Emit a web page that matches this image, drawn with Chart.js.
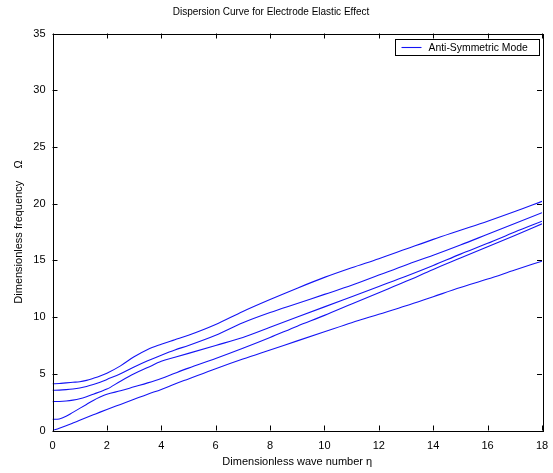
<!DOCTYPE html>
<html><head><meta charset="utf-8">
<script src="https://cdn.jsdelivr.net/npm/chart.js@4/dist/chart.umd.min.js"></script>
<style>html,body{margin:0;padding:0;background:#fff}</style>
</head><body>
<canvas id="c" width="553" height="473"></canvas>
<script>
const titleText = 'Dispersion Curve for Electrode Elastic Effect';
const xTitle = 'Dimensionless wave number \u03b7';
const yTitle = 'Dimensionless frequency    \u03a9';
const legendLabel = 'Anti-Symmetric Mode';
const xTicks = [0,2,4,6,8,10,12,14,16,18];
const yTicks = [0,5,10,15,20,25,30,35];

const waveNumber = [0,0.25,0.5,0.75,1,1.25,1.5,1.75,2,2.5,3,3.5,4,4.5,5,6,7,8,9,10,11,12,13,14,15,16,17,18];
const mode1 = [0,0.2,0.42,0.66,0.9,1.14,1.38,1.62,1.85,2.3,2.75,3.2,3.62,4.1,4.55,5.45,6.3,7.1,7.9,8.7,9.5,10.25,11.0,11.8,12.6,13.35,14.15,14.93];
const mode2 = [0.98,1.02,1.25,1.6,1.95,2.3,2.65,2.95,3.2,3.5,3.85,4.2,4.59,5.05,5.5,6.35,7.25,8.2,9.2,10.15,11.15,12.15,13.15,14.2,15.2,16.2,17.2,18.22];
const mode3 = [2.55,2.56,2.6,2.68,2.8,2.98,3.2,3.42,3.65,4.35,5.0,5.55,6.1,6.45,6.8,7.5,8.2,9.1,10.0,10.9,11.8,12.7,13.6,14.55,15.55,16.5,17.5,18.45];
const mode4 = [3.55,3.56,3.6,3.66,3.75,3.88,4.05,4.25,4.5,5.0,5.6,6.15,6.64,7.1,7.5,8.4,9.5,10.4,11.2,12.0,12.8,13.7,14.6,15.45,16.35,17.3,18.25,19.2];
const mode5 = [4.12,4.14,4.2,4.25,4.3,4.42,4.6,4.8,5.05,5.7,6.5,7.15,7.6,8.0,8.4,9.35,10.5,11.55,12.55,13.5,14.35,15.15,16.0,16.85,17.65,18.45,19.3,20.2];

const lineColor = 'rgb(20,20,245)';
const FONT = 'Arial, "Liberation Sans", Helvetica, sans-serif';

function mk(arr, label) {
  return {
    label: label,
    data: waveNumber.map((x, i) => ({x: x, y: arr[i]})),
    borderColor: lineColor,
    backgroundColor: lineColor,
    borderWidth: 1.1,
    pointRadius: 0,
    fill: false,
    tension: 0.35,
    cubicInterpolationMode: 'monotone'
  };
}

const frame = {
  id: 'frame',
  afterDraw(chart) {
    const ctx = chart.ctx;
    const a = chart.chartArea;
    const xs = chart.scales.x, ys = chart.scales.y;
    ctx.save();
    ctx.strokeStyle = '#000';
    ctx.lineWidth = 1;
    ctx.strokeRect(Math.round(a.left) + 0.5, Math.round(a.top) + 0.5, Math.round(a.right - a.left), Math.round(a.bottom - a.top));
    ctx.beginPath();
    const tl = 5;
    xTicks.forEach(v => {
      const px = Math.round(xs.getPixelForValue(v)) + 0.5;
      ctx.moveTo(px, a.bottom); ctx.lineTo(px, a.bottom - tl);
      ctx.moveTo(px, a.top); ctx.lineTo(px, a.top + tl);
    });
    yTicks.forEach(v => {
      const py = Math.round(ys.getPixelForValue(v)) + 0.5;
      ctx.moveTo(a.left, py); ctx.lineTo(a.left + tl, py);
      ctx.moveTo(a.right, py); ctx.lineTo(a.right - tl, py);
    });
    ctx.stroke();
    // legend
    const bw = 144, bh = 16;
    const bx = Math.round(a.right - 3 - bw) + 0.5;
    const by = Math.round(a.top + 5) + 0.5;
    ctx.fillStyle = '#fff';
    ctx.fillRect(bx, by, bw, bh);
    ctx.strokeStyle = '#000';
    ctx.strokeRect(bx, by, bw, bh);
    ctx.strokeStyle = lineColor;
    ctx.lineWidth = 1.1;
    ctx.beginPath();
    ctx.moveTo(bx + 6, by + bh / 2); ctx.lineTo(bx + 26, by + bh / 2);
    ctx.stroke();
    ctx.fillStyle = '#000';
    ctx.font = '10.4px ' + FONT;
    ctx.textBaseline = 'middle';
    ctx.textAlign = 'left';
    ctx.fillText(chart.data.datasets[0].label, bx + 33, by + bh / 2 + 0.5);
    ctx.restore();
  }
};

new Chart(document.getElementById('c'), {
  type: 'line',
  data: {
    datasets: [mk(mode1, legendLabel), mk(mode2, 'mode2'), mk(mode3, 'mode3'), mk(mode4, 'mode4'), mk(mode5, 'mode5')]
  },
  options: {
    responsive: false,
    animation: false,
    devicePixelRatio: 1,
    layout: {padding: {left: 0, right: 11, top: 0, bottom: 0}},
    plugins: {
      legend: {display: false},
      tooltip: {enabled: false},
      title: {
        display: true, text: titleText, color: '#000',
        font: {family: FONT, size: 10, weight: 'normal'},
        padding: {top: 6, bottom: 15.5}
      }
    },
    scales: {
      x: {
        type: 'linear', min: 0, max: 18,
        afterFit(s) { s.height = 42.5; s.paddingLeft = 0; s.paddingRight = 0; },
        afterBuildTicks(s) { s.ticks = xTicks.map(v => ({value: v})); },
        grid: {display: false, drawTicks: false},
        border: {display: false},
        ticks: {color: '#000', font: {family: FONT, size: 11}, padding: 9, maxRotation: 0, autoSkip: false},
        title: {display: true, text: xTitle, color: '#000', font: {family: FONT, size: 11}, padding: {top: 0, bottom: 4.4}}
      },
      y: {
        type: 'linear', min: 0, max: 35,
        afterFit(s) { s.width = 52.5; s.paddingTop = 0; s.paddingBottom = 0; },
        afterBuildTicks(s) { s.ticks = yTicks.map(v => ({value: v})); },
        grid: {display: false, drawTicks: false},
        border: {display: false},
        ticks: {color: '#000', font: {family: FONT, size: 11}, padding: 7, autoSkip: false},
        title: {display: true, text: yTitle, color: '#000', font: {family: FONT, size: 11}, padding: {top: 12, bottom: 0}}
      }
    }
  },
  plugins: [frame]
});
</script>
</body></html>
